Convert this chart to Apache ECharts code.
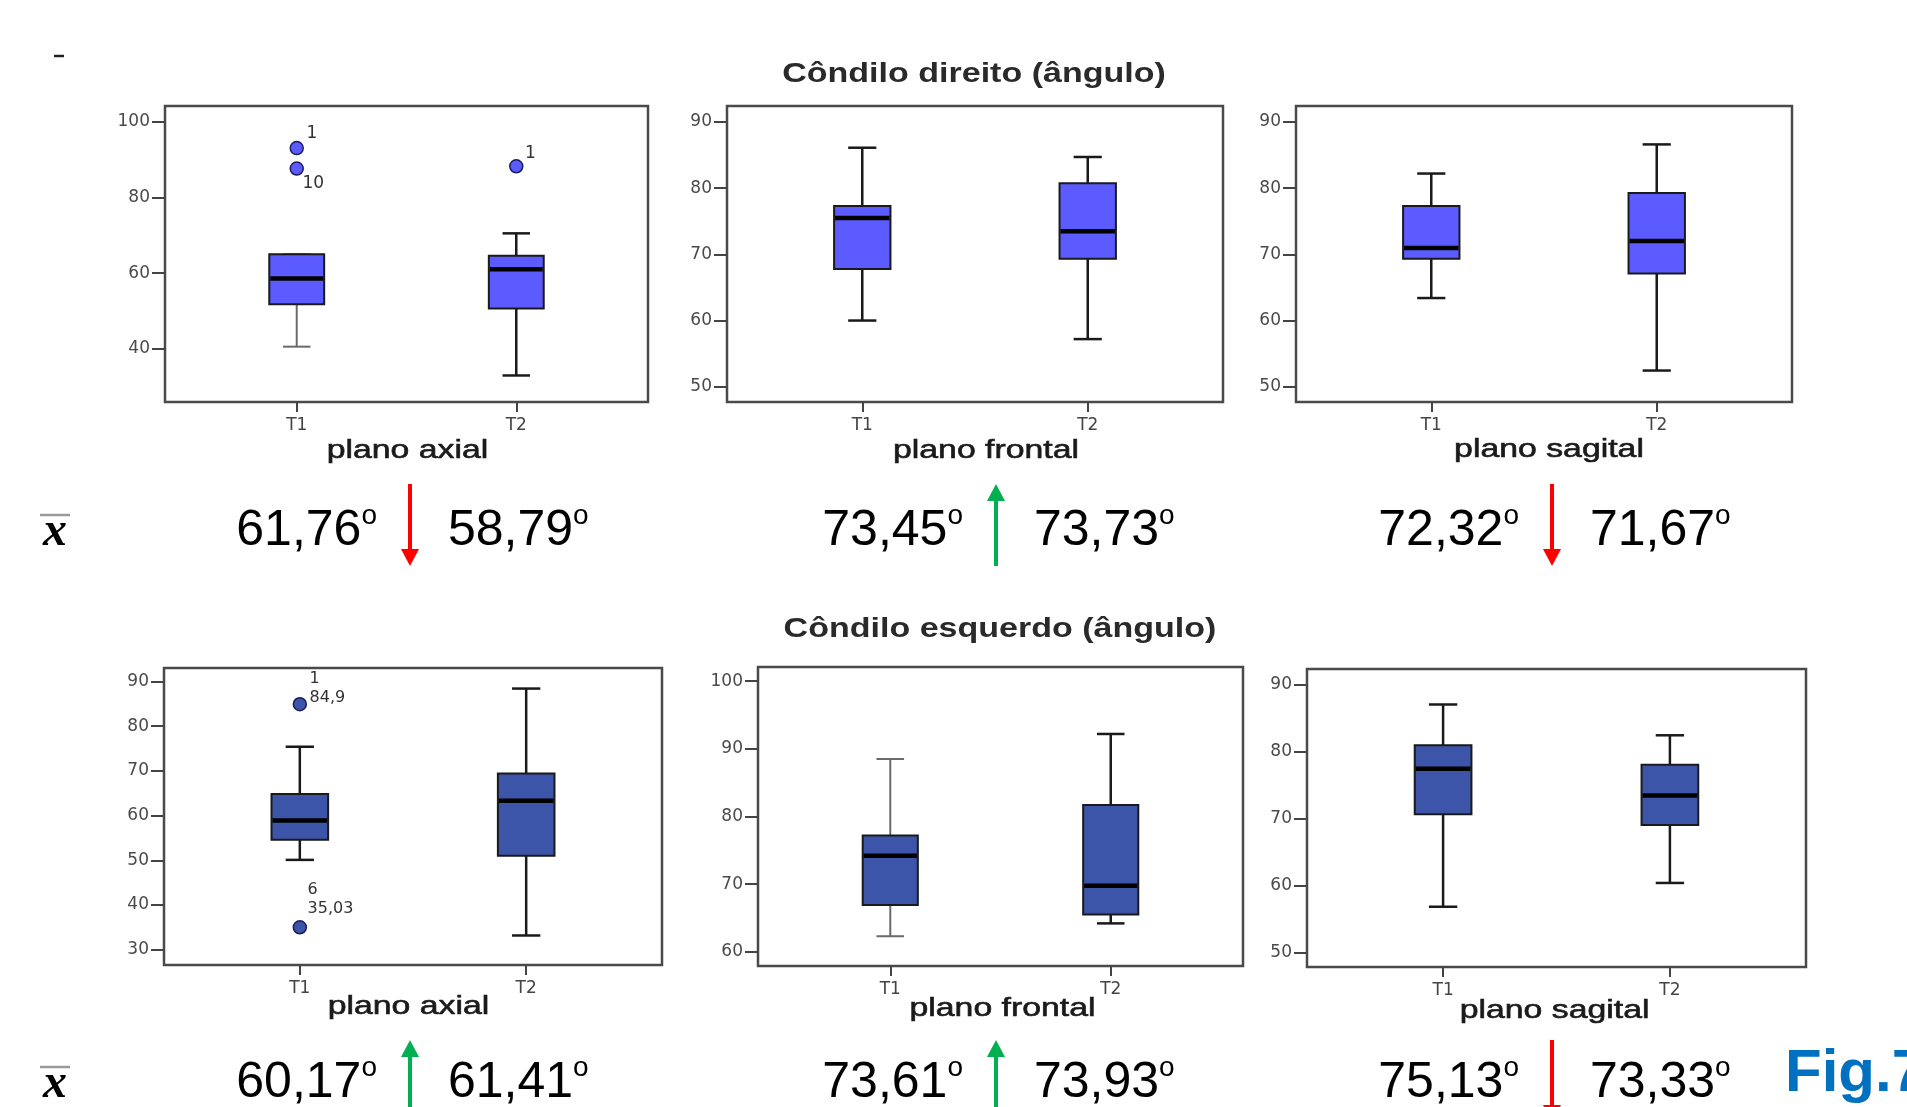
<!DOCTYPE html>
<html><head><meta charset="utf-8">
<script src="https://cdn.jsdelivr.net/npm/echarts@6/dist/echarts.min.js"></script>
<style>html,body{margin:0;padding:0;background:#fff}#c{width:1907px;height:1107px}</style>
</head><body><div id="c"></div>
<script>
// ---------------- data ----------------
const categories = ['T1', 'T2'];
const rowTitles = ['Côndilo direito (ângulo)', 'Côndilo esquerdo (ângulo)'];
const planeNames = ['plano axial', 'plano frontal', 'plano sagital'];

// boxplot statistics per category: [min, Q1, median, Q3, max]
const dirAxial   = [[40.6, 51.8, 58.6, 65.0, 65.0], [33.0, 50.7, 61.0, 64.6, 70.5]];
const dirFrontal = [[60.0, 67.8, 75.5, 77.3, 86.1], [57.2, 69.35, 73.5, 80.75, 84.7]];
const dirSagital = [[63.4, 69.35, 70.95, 77.3, 82.2], [52.45, 67.1, 72.0, 79.25, 86.6]];
const esqAxial   = [[50.1, 54.6, 58.9, 64.85, 75.4], [33.2, 51.0, 63.3, 69.4, 88.4]];
const esqFrontal = [[62.3, 66.9, 74.2, 77.2, 88.5], [64.2, 65.5, 69.75, 81.7, 92.2]];
const esqSagital = [[56.8, 70.6, 77.4, 80.9, 87.0], [60.35, 69.0, 73.4, 78.0, 82.4]];

// outliers: [category number, value, label]
const dirAxialOutliers = [[1, 93.0, '1'], [1, 87.6, '10'], [2, 88.2, '1']];
const esqAxialOutliers = [[1, 84.9, '1\n84,9'], [1, 35.03, '6\n35,03']];

// y tick labels
const ticksDirAxial   = [40, 60, 80, 100];
const ticksDirFrontal = [50, 60, 70, 80, 90];
const ticksDirSagital = [50, 60, 70, 80, 90];
const ticksEsqAxial   = [30, 40, 50, 60, 70, 80, 90];
const ticksEsqFrontal = [60, 70, 80, 90, 100];
const ticksEsqSagital = [50, 60, 70, 80, 90];

// means (x̄) at T1 and T2 per plane
const meanDirT1 = [61.76, 73.45, 72.32];
const meanDirT2 = [58.79, 73.73, 71.67];
const meanEsqT1 = [60.17, 73.61, 75.13];
const meanEsqT2 = [61.41, 73.93, 73.33];

// ---------------- layout / style ----------------
const TOP_FILL = '#5b5bff';
const BOT_FILL = '#3c55a8';
const BOX_W = 0.25;
const panels = [
  {stats: dirAxial,   out: dirAxialOutliers, ticks: ticksDirAxial,   range: [26.0, 104.1], grid: {left: 165, top: 106, width: 483, height: 296}, fill: TOP_FILL,
   labelPos: [[17, -17], [13, 13], [16, -15]], labelSize: 17, lightWhisker: [true, false]},
  {stats: dirFrontal, out: [], ticks: ticksDirFrontal, range: [47.7, 92.4], grid: {left: 727, top: 106, width: 496, height: 296}, fill: TOP_FILL},
  {stats: dirSagital, out: [], ticks: ticksDirSagital, range: [47.7, 92.4], grid: {left: 1296, top: 106, width: 496, height: 296}, fill: TOP_FILL},
  {stats: esqAxial,   out: esqAxialOutliers, ticks: ticksEsqAxial,   range: [26.6, 93.0], grid: {left: 164, top: 668, width: 498, height: 297}, fill: BOT_FILL,
   labelPos: [[17, -28], [15, -40]], labelSize: 16},
  {stats: esqFrontal, out: [], ticks: ticksEsqFrontal, range: [57.9, 102.1], grid: {left: 758, top: 667, width: 485, height: 299}, fill: BOT_FILL, lightWhisker: [true, false]},
  {stats: esqSagital, out: [], ticks: ticksEsqSagital, range: [47.8, 92.3], grid: {left: 1307, top: 669, width: 499, height: 298}, fill: BOT_FILL}
];

const grids = [], xAxes = [], yAxes = [], series = [];
panels.forEach((p, i) => {
  grids.push(Object.assign({show: true, borderColor: '#4a4a4a', borderWidth: 2.5, backgroundColor: 'transparent', containLabel: false}, p.grid));
  xAxes.push({
    gridIndex: i, type: 'value', min: 0.4, max: 2.6,
    axisLine: {show: false}, splitLine: {show: false},
    axisTick: {show: true, customValues: [1, 2], length: 10, lineStyle: {color: '#444', width: 2}},
    axisLabel: {show: true, customValues: [1, 2], formatter: v => categories[Math.round(v) - 1], margin: 15,
      fontFamily: 'DejaVu Sans', fontSize: 17, color: '#444'}
  });
  yAxes.push({
    gridIndex: i, type: 'value', min: p.range[0], max: p.range[1],
    axisLine: {show: false}, splitLine: {show: false},
    axisTick: {show: true, customValues: p.ticks, length: 13, lineStyle: {color: '#444', width: 2}},
    axisLabel: {show: true, customValues: p.ticks, margin: 15, fontFamily: 'DejaVu Sans', fontSize: 17, color: '#4a4a4a'}
  });
  const fill = p.fill;
  const light = p.lightWhisker || [false, false];
  series.push({
    type: 'custom', xAxisIndex: i, yAxisIndex: i, z: 3,
    data: p.stats.map((s, k) => [k + 1].concat(s)),
    encode: {x: 0, y: [1, 2, 3, 4, 5]},
    renderItem: function (params, api) {
      const x = api.value(0);
      const lo = api.coord([x, api.value(1)]);
      const q1 = api.coord([x, api.value(2)]);
      const md = api.coord([x, api.value(3)]);
      const q3 = api.coord([x, api.value(4)]);
      const hi = api.coord([x, api.value(5)]);
      const bw = api.size([BOX_W, 0])[0];
      const cx = lo[0];
      const cap = bw * 0.5;
      const ls = light[params.dataIndex] ? {stroke: '#6a6a6a', lineWidth: 2} : {stroke: '#1a1a1a', lineWidth: 2.5};
      return {type: 'group', children: [
        {type: 'line', shape: {x1: cx, y1: hi[1], x2: cx, y2: q3[1]}, style: ls},
        {type: 'line', shape: {x1: cx, y1: q1[1], x2: cx, y2: lo[1]}, style: ls},
        {type: 'line', shape: {x1: cx - cap / 2, y1: hi[1], x2: cx + cap / 2, y2: hi[1]}, style: ls},
        {type: 'line', shape: {x1: cx - cap / 2, y1: lo[1], x2: cx + cap / 2, y2: lo[1]}, style: ls},
        {type: 'rect', shape: {x: cx - bw / 2, y: q3[1], width: bw, height: q1[1] - q3[1]}, style: {fill: fill, stroke: '#1a1a1a', lineWidth: 2}},
        {type: 'line', shape: {x1: cx - bw / 2 + 1, y1: md[1], x2: cx + bw / 2 - 1, y2: md[1]}, style: {stroke: '#000', lineWidth: 4.5}}
      ]};
    }
  });
  if (p.out.length) {
    series.push({
      type: 'scatter', xAxisIndex: i, yAxisIndex: i, z: 4,
      symbol: 'circle', symbolSize: 13,
      itemStyle: {color: fill, borderColor: '#1c1c5c', borderWidth: 1.5, opacity: 1},
      data: p.out.map((o, k) => ({
        value: [o[0], o[1]],
        label: {show: true, formatter: o[2], position: p.labelPos[k], align: 'left', verticalAlign: 'top',
          fontFamily: 'DejaVu Sans', fontSize: p.labelSize, lineHeight: 19, color: '#333'}
      }))
    });
  }
});

// ---------------- annotations ----------------
const graphics = [];
const FONT = 'Liberation Sans';
graphics.push({type: 'line', shape: {x1: 54, y1: 56, x2: 64, y2: 56}, style: {stroke: '#222', lineWidth: 2.5}});
const titlePos = [[974, 75], [1000, 630]];
rowTitles.forEach((t, r) => graphics.push({
  type: 'text', x: titlePos[r][0], y: titlePos[r][1], scaleX: 1.26,
  style: {text: t, x: 0, y: 0, align: 'center', verticalAlign: 'middle', font: 'bold 27px "' + FONT + '"', fill: '#2a2a2a'}
}));
const planePos = [[407.5, 451], [986, 451], [1549, 450], [408.5, 1007], [1002.5, 1009], [1554.6, 1011]];
planePos.forEach((pp, k) => graphics.push({
  type: 'text', x: pp[0], y: pp[1], scaleX: 1.3,
  style: {text: planeNames[k % 3], x: 0, y: 0, align: 'center', verticalAlign: 'middle', font: '26px "' + FONT + '"', fill: '#1a1a1a',
    stroke: '#1a1a1a', lineWidth: 0.6}
}));

const arrowX = [410, 996, 1552];
const rows = [
  {t1: meanDirT1, t2: meanDirT2, textY: 531.5, arrowTop: 484, barY: 515, xY: 533},
  {t1: meanEsqT1, t2: meanEsqT2, textY: 1083.5, arrowTop: 1040, barY: 1067, xY: 1085}
];
const fmt = v => v.toFixed(2).replace('.', ',');
const rich = {
  n: {fontSize: 50, fontFamily: FONT, fill: '#000', lineHeight: 58},
  s: {fontSize: 28, fontFamily: FONT, fill: '#000', verticalAlign: 'top'}
};
rows.forEach(row => {
  // x̄ symbol
  graphics.push({type: 'line', shape: {x1: 40, y1: row.barY, x2: 70, y2: row.barY}, style: {stroke: '#9a9a9a', lineWidth: 2.5}});
  graphics.push({type: 'text', x: 55, y: row.xY, style: {text: 'x', x: 0, y: 0, align: 'center', verticalAlign: 'middle',
    font: 'italic bold 48px "Liberation Serif"', fill: '#000'}});
  arrowX.forEach((ax, k) => {
    graphics.push({type: 'text', x: ax - 33, y: row.textY, style: {text: '{n|' + fmt(row.t1[k]) + '}{s|o}', rich: rich, x: 0, y: 0, align: 'right', verticalAlign: 'middle'}});
    graphics.push({type: 'text', x: ax + 38, y: row.textY, style: {text: '{n|' + fmt(row.t2[k]) + '}{s|o}', rich: rich, x: 0, y: 0, align: 'left', verticalAlign: 'middle'}});
    const up = row.t2[k] > row.t1[k];
    const col = up ? '#00b050' : '#ff0000';
    const H = 82, hh = 17, hw = 9;
    const children = up ? [
      {type: 'rect', shape: {x: -2, y: hh - 1, width: 4, height: H - hh + 1}, style: {fill: col}},
      {type: 'polygon', shape: {points: [[-hw, hh], [hw, hh], [0, 0]]}, style: {fill: col}}
    ] : [
      {type: 'rect', shape: {x: -2, y: 0, width: 4, height: H - hh + 1}, style: {fill: col}},
      {type: 'polygon', shape: {points: [[-hw, H - hh], [hw, H - hh], [0, H]]}, style: {fill: col}}
    ];
    graphics.push({type: 'group', x: ax, y: row.arrowTop, children: children});
  });
});
graphics.push({type: 'text', x: 1785, y: 1074, style: {text: 'Fig.7', x: 0, y: 0, align: 'left', verticalAlign: 'middle',
  font: 'bold 60px "' + FONT + '"', fill: '#0070c0'}});

const chart = echarts.init(document.getElementById('c'));
chart.setOption({
  animation: false,
  backgroundColor: '#fff',
  grid: grids, xAxis: xAxes, yAxis: yAxes, series: series,
  graphic: {elements: graphics}
});
</script></body></html>
